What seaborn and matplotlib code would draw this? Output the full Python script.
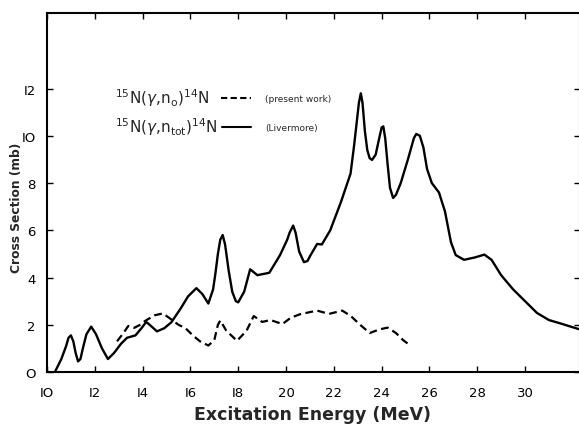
import matplotlib
matplotlib.use("Agg")
import matplotlib.pyplot as plt
import seaborn as sns
import pandas as pd
from matplotlib.lines import Line2D

# ---- data ----
livermore_E = [10.33, 10.6, 10.8, 10.9, 11.0, 11.1, 11.2, 11.3, 11.4, 11.5, 11.65, 11.85, 12.05,
               12.3, 12.55, 12.8, 13.1, 13.35, 13.7, 13.95, 14.15, 14.35, 14.6,
               14.9, 15.2, 15.6, 15.9, 16.25, 16.5, 16.75, 16.95, 17.05, 17.15, 17.25, 17.35,
               17.45, 17.6, 17.75, 17.9, 18.0, 18.25, 18.5, 18.8, 19.3, 19.75, 20.05, 20.15, 20.3,
               20.4, 20.55, 20.75, 20.9, 21.0, 21.3, 21.5, 21.85, 22.3, 22.7, 22.85, 22.95, 23.05, 23.13,
               23.2, 23.3, 23.4, 23.5, 23.6, 23.75, 23.9, 24.0, 24.07, 24.15, 24.25, 24.35, 24.48, 24.6,
               24.8, 25.1, 25.35, 25.45, 25.6, 25.75, 25.9, 26.1, 26.4, 26.65, 26.9, 27.1, 27.45,
               27.9, 28.3, 28.6, 29.0, 29.5, 30.0, 30.5, 31.0, 31.5, 32.3]
livermore_sigma = [0.0, 0.55, 1.1, 1.45, 1.55, 1.3, 0.8, 0.45, 0.55, 1.0, 1.6, 1.92, 1.6,
                   1.0, 0.55, 0.8, 1.2, 1.45, 1.55, 1.85, 2.12, 1.95, 1.72,
                   1.85, 2.1, 2.7, 3.2, 3.55, 3.3, 2.9, 3.5, 4.2, 5.0, 5.6, 5.8,
                   5.4, 4.3, 3.4, 3.0, 2.95, 3.4, 4.35, 4.1, 4.2, 4.95, 5.6, 5.9, 6.2,
                   5.9, 5.1, 4.65, 4.7, 4.9, 5.42, 5.4, 6.0, 7.2, 8.4, 9.6, 10.5, 11.4, 11.8,
                   11.4, 10.2, 9.4, 9.05, 8.98, 9.2, 9.9, 10.35, 10.4, 9.9, 8.8, 7.8, 7.37, 7.5,
                   8.0, 9.0, 9.9, 10.08, 10.0, 9.5, 8.6, 8.0, 7.6, 6.8, 5.5, 4.95, 4.75,
                   4.85, 4.97, 4.75, 4.1, 3.5, 3.0, 2.5, 2.2, 2.05, 1.8]

present_E = [12.93, 13.2, 13.4, 13.65, 13.9, 14.1, 14.5, 14.85, 15.1, 15.5,
             15.8, 16.1, 16.4, 16.75, 17.0, 17.15, 17.25, 17.5, 17.95, 18.35,
             18.65, 19.0, 19.35, 19.85, 20.2, 20.6, 21.3, 21.8, 22.35, 22.7,
             23.1, 23.5, 23.9, 24.25, 24.6, 24.9, 25.2]
present_sigma = [1.3, 1.65, 1.95, 1.87, 2.0, 2.16, 2.4, 2.48, 2.3, 2.0,
                 1.85, 1.55, 1.3, 1.12, 1.35, 2.0, 2.18, 1.75, 1.32, 1.75,
                 2.37, 2.12, 2.2, 2.03, 2.3, 2.45, 2.6, 2.46, 2.6, 2.38,
                 2.0, 1.65, 1.8, 1.88, 1.65, 1.35, 1.12]

x_ticks = [10, 12, 14, 16, 18, 20, 22, 24, 26, 28, 30]
x_tick_labels = ["IO", "I2", "I4", "I6", "I8", "20", "22", "24", "26", "28", "30"]
y_ticks = [0, 2, 4, 6, 8, 10, 12]
y_tick_labels = ["O", "2", "4", "6", "8", "IO", "I2"]

sns.set_style("ticks")
plt.rcParams["font.family"] = ["DejaVu Sans"]
plt.rcParams["mathtext.fontset"] = "dejavusans"

fig = plt.figure(figsize=(5.79, 4.27), dpi=100)
ax = fig.add_axes([47 / 579, 54 / 427, 533 / 579, 359 / 427])

df_l = pd.DataFrame({"E": livermore_E, "sigma": livermore_sigma})
df_p = pd.DataFrame({"E": present_E, "sigma": present_sigma})
sns.lineplot(data=df_l, x="E", y="sigma", ax=ax, color="black", lw=1.7, sort=False)
sns.lineplot(data=df_p, x="E", y="sigma", ax=ax, color="black", lw=1.6, sort=False,
             linestyle=(0, (3.5, 2.0)))

ax.set_xlim(10, 32.3)
ax.set_ylim(0, 15.2)
ax.set_xticks(x_ticks)
ax.set_xticklabels(x_tick_labels)
ax.set_yticks(y_ticks)
ax.set_yticklabels(y_tick_labels)
ax.tick_params(direction="in", length=4, width=1.0, top=True, right=True,
               labelsize=9.5, colors="black")
ax.tick_params(axis="x", pad=10)
ax.tick_params(axis="y", pad=8)
for s in ax.spines.values():
    s.set_linewidth(1.5)
    s.set_color("black")
ax.set_xlabel("")
ax.set_ylabel("")

fig.text(313 / 579, 1 - 415 / 427, "Excitation Energy (MeV)", ha="center", va="center",
         fontsize=12.5, fontweight="bold")
fig.text(17 / 579, 1 - 208 / 427, "Cross Section (mb)", ha="center", va="center",
         rotation=90, fontsize=8.8, fontweight="bold")

# legend-like annotation
fig.text(115 / 579, 1 - 98 / 427, r"$^{15}$N($\gamma$,n$_{\rm o}$)$^{14}$N",
         ha="left", va="center", fontsize=11)
fig.text(115 / 579, 1 - 127 / 427, r"$^{15}$N($\gamma$,n$_{\rm tot}$)$^{14}$N",
         ha="left", va="center", fontsize=11)
fig.add_artist(Line2D([221 / 579, 251 / 579], [1 - 99 / 427, 1 - 99 / 427],
                      color="black", lw=1.5, linestyle=(0, (3.0, 1.6))))
fig.add_artist(Line2D([222 / 579, 251 / 579], [1 - 128 / 427, 1 - 128 / 427],
                      color="black", lw=1.5))
fig.text(265 / 579, 1 - 100 / 427, "(present work)", ha="left", va="center", fontsize=6.5)
fig.text(265 / 579, 1 - 129 / 427, "(Livermore)", ha="left", va="center", fontsize=6.5)

fig.savefig("out.png", dpi=100)
